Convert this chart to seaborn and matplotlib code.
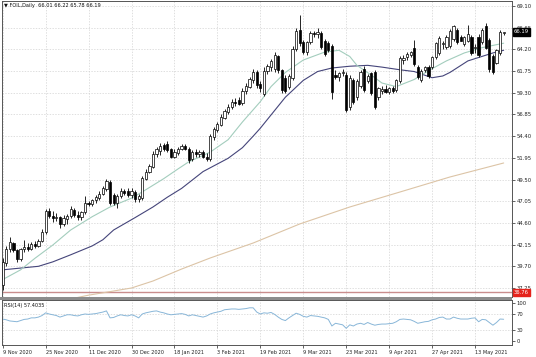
import numpy as np
import pandas as pd
import matplotlib
matplotlib.use('Agg')
import matplotlib.pyplot as plt
import matplotlib.transforms as mtrans
from matplotlib.patches import Rectangle
import seaborn as sns

# FOIL daily candles (9 Nov 2020 .. late May 2021)
opens = [37.6, 40.1, 41.7, 42.3, 41.5, 40.5, 41.6, 41.9, 41.7, 42.2,
         42.0, 42.6, 43.6, 45.9, 45.4, 45.1, 45.3, 44.5, 45.0, 45.4,
         46.1, 45.5, 45.3, 45.8, 46.9, 46.7, 47.2, 47.4, 47.9, 48.4,
         49.2, 47.8, 46.8, 47.6, 48.2, 48.2, 47.7, 48.1, 47.3, 47.4,
         49.6, 50.4, 50.9, 52.4, 52.7, 53.4, 53.5, 52.9, 52.1, 52.5,
         53.0, 53.3, 53.0, 51.8, 52.6, 52.4, 52.6, 52.1, 51.8, 54.3,
         55.1, 55.7, 56.5, 57.1, 57.7, 58.3, 58.5, 58.1, 59.5, 60.0,
         60.8, 61.6, 60.3, 59.2, 61.8, 62.2, 62.0, 63.4, 61.9, 61.0,
         60.0, 61.0, 64.2, 66.4, 65.0, 63.9, 65.0, 66.0, 65.9, 66.1,
         65.2, 64.9, 64.6, 61.3, 61.1, 61.5, 61.3, 57.7, 60.8, 58.8,
         60.1, 62.0, 60.6, 61.5, 61.6, 58.8, 59.5, 59.7, 59.4, 59.8,
         59.6, 60.6, 63.0, 63.3, 63.6, 64.4, 62.2, 60.8, 61.9, 62.2,
         62.2, 63.3, 63.8, 64.8, 64.5, 64.6, 65.4, 66.4, 65.6, 64.8,
         65.1, 65.6, 64.4, 65.6, 65.0, 66.9, 65.3, 63.5, 62.7, 63.8,
         66.01]
highs = [40.6, 42.0, 43.0, 42.5, 41.7, 41.8, 42.7, 42.3, 42.4, 42.6,
         42.8, 43.9, 46.2, 46.3, 45.9, 45.7, 45.4, 45.5, 45.6, 46.5,
         46.3, 46.0, 46.0, 47.6, 47.1, 47.3, 47.7, 48.2, 48.8, 49.6,
         49.4, 48.0, 47.9, 48.5, 48.4, 48.5, 48.5, 48.3, 47.9, 49.9,
         50.7, 51.3, 52.7, 53.2, 53.6, 53.6, 53.8, 53.1, 52.9, 53.2,
         53.5, 53.5, 53.2, 52.8, 52.9, 52.8, 52.8, 52.5, 54.6, 55.4,
         56.0, 56.9, 57.5, 58.0, 58.6, 58.7, 58.8, 59.8, 60.4, 61.1,
         62.0, 61.9, 60.6, 62.2, 62.6, 63.1, 63.9, 63.6, 62.0, 61.3,
         61.4, 64.6, 66.6, 68.1, 65.3, 65.2, 66.3, 66.3, 66.6, 66.3,
         65.4, 65.1, 64.8, 61.9, 61.7, 62.0, 61.6, 61.3, 61.0, 60.9,
         61.9, 62.3, 61.4, 61.7, 61.9, 60.0, 60.1, 60.2, 60.0, 60.1,
         60.9, 63.4, 63.6, 63.9, 64.0, 65.3, 62.4, 62.0, 62.3, 62.4,
         63.4, 65.0, 65.7, 65.2, 65.8, 66.5, 67.0, 66.6, 65.8, 65.7,
         67.0, 65.8, 64.8, 65.9, 66.6, 67.2, 65.5, 63.7, 64.3, 66.4,
         66.22]
lows = [37.0, 39.7, 41.3, 41.3, 40.2, 40.3, 41.3, 41.4, 41.5, 41.8,
        41.9, 42.4, 43.4, 45.1, 44.7, 44.8, 44.0, 44.2, 44.5, 45.2,
        45.3, 44.9, 44.9, 45.6, 46.5, 46.5, 46.9, 47.2, 47.7, 48.2,
        46.6, 46.6, 46.3, 47.4, 47.8, 47.5, 47.4, 47.0, 47.0, 47.2,
        49.4, 50.2, 50.8, 52.1, 52.3, 52.7, 52.6, 51.9, 51.9, 52.3,
        52.8, 52.8, 51.4, 51.6, 52.1, 52.0, 51.9, 51.6, 51.6, 54.0,
        54.9, 55.5, 56.3, 56.9, 57.5, 57.8, 57.9, 57.9, 59.2, 59.8,
        60.4, 59.8, 59.4, 58.9, 61.4, 61.8, 61.7, 61.5, 59.3, 59.3,
        59.7, 60.7, 64.0, 64.6, 63.7, 63.6, 64.8, 65.6, 65.5, 64.3,
        63.5, 63.9, 58.6, 60.9, 60.6, 61.2, 57.1, 57.4, 58.0, 58.5,
        59.8, 59.4, 60.4, 59.1, 57.5, 58.5, 59.2, 59.3, 59.2, 59.3,
        59.4, 60.4, 62.6, 63.0, 63.3, 62.3, 60.9, 60.5, 61.6, 61.0,
        62.0, 63.1, 63.6, 64.3, 64.3, 64.4, 65.2, 64.8, 65.1, 64.6,
        65.0, 63.6, 63.8, 63.3, 64.8, 64.2, 61.7, 61.4, 62.5, 63.6,
        65.78]
closes = [40.2, 41.7, 42.4, 41.5, 40.5, 41.6, 41.9, 41.7, 42.2, 42.0,
          42.6, 43.6, 45.9, 45.4, 45.1, 45.3, 44.5, 45.2, 45.4, 46.2,
          45.5, 45.3, 45.8, 46.9, 46.7, 47.2, 47.5, 47.9, 48.5, 49.3,
          46.9, 46.8, 47.6, 48.2, 48.0, 47.7, 48.2, 47.3, 47.6, 49.7,
          50.4, 51.0, 52.4, 52.9, 53.3, 52.9, 52.8, 52.1, 52.6, 53.0,
          53.3, 53.0, 51.7, 52.6, 52.4, 52.6, 52.1, 51.8, 54.4, 55.2,
          55.8, 56.6, 57.2, 57.7, 58.3, 58.1, 58.0, 59.5, 60.1, 60.9,
          61.7, 60.2, 59.8, 61.8, 62.3, 62.9, 63.6, 61.9, 59.6, 59.5,
          61.2, 64.3, 66.3, 64.9, 63.9, 65.0, 66.1, 65.9, 66.2, 64.5,
          63.7, 64.1, 59.4, 61.1, 61.5, 61.6, 57.4, 61.0, 58.3, 60.6,
          61.6, 59.6, 61.2, 59.3, 57.7, 59.8, 59.7, 59.4, 59.8, 59.5,
          60.7, 63.2, 63.2, 63.7, 63.9, 62.5, 61.1, 61.8, 62.2, 61.2,
          63.3, 64.9, 65.5, 64.9, 65.6, 66.3, 66.8, 65.0, 65.2, 65.6,
          65.9, 63.8, 64.5, 63.6, 66.4, 64.4, 62.0, 61.7, 64.1, 66.2,
          66.19]
rsi = [58, 56, 53, 52, 51, 54, 57, 58, 61, 61,
       63, 67, 74, 71, 69, 67, 63, 66, 69, 69,
       67, 66, 69, 71, 70, 71, 72, 74, 76, 79,
       61, 62, 66, 69, 67, 66, 69, 66, 61, 71,
       74, 76, 78, 79, 76, 74, 71, 69, 70, 71,
       72, 70, 66, 69, 67, 65, 63, 66, 71, 74,
       76, 78, 82, 83, 84, 84, 83, 84, 85, 87,
       87, 76, 71, 74, 73, 75, 70, 63, 57, 54,
       61, 67, 73, 70, 65, 63, 67, 66, 65, 63,
       61, 57, 40, 47, 45, 43, 34, 43, 40, 45,
       47, 44, 49, 45, 42, 44, 45, 45, 46, 47,
       51, 57, 58, 57, 56, 52, 47, 49, 51, 52,
       56, 58, 62, 63, 58, 58, 63, 60, 58, 58,
       58, 60, 61, 51, 57, 56, 49, 42, 49, 58,
       57.4]

# moving averages, read at sample bars
fast_bars = [0, 5, 9, 14, 19, 25, 30, 36, 39, 45, 49, 52, 58, 63, 67, 72, 75, 79,
             84, 90, 94, 97, 99, 103, 106, 110, 115, 119, 124, 129, 134, 140]
fast_ma = [38.2, 39.3, 40.6, 42.1, 43.8, 45.3, 46.4, 47.4, 48.1, 49.6, 50.7, 51.5,
           52.6, 54.0, 56.0, 58.3, 60.0, 61.6, 63.0, 63.9, 64.1, 63.4, 62.4, 61.3,
           60.4, 60.0, 60.8, 61.8, 62.9, 63.8, 64.4, 64.9]
slow_bars = [0, 5, 10, 14, 19, 25, 28, 31, 37, 42, 46, 50, 56, 63, 67, 70, 72, 76,
             79, 84, 88, 92, 97, 102, 106, 111, 115, 120, 123, 125, 130, 137, 140]
slow_ma = [39.3, 39.5, 39.7, 40.2, 41.0, 42.0, 42.7, 43.8, 45.2, 46.4, 47.5, 48.5,
           50.4, 51.9, 53.1, 54.4, 55.3, 57.3, 58.8, 60.7, 61.7, 62.1, 62.3, 62.4,
           62.2, 61.9, 61.7, 61.0, 61.2, 61.6, 62.9, 63.8, 64.1]
long_bars = [20, 24, 30, 36, 42, 50, 58, 70, 83, 97, 111, 125, 140]
long_ma = [36.1, 36.44, 36.84, 37.25, 38.04, 39.39, 40.64, 42.33, 44.48, 46.40,
           48.09, 49.79, 51.37]

date_labels = ['9 Nov 2020', '25 Nov 2020', '11 Dec 2020', '30 Dec 2020',
               '18 Jan 2021', '3 Feb 2021', '19 Feb 2021', '9 Mar 2021',
               '23 Mar 2021', '9 Apr 2021', '27 Apr 2021', '13 May 2021']
price_ticks = [69.10, 66.65, 64.20, 61.75, 59.30, 56.85, 54.40, 51.95,
               49.50, 47.05, 44.60, 42.15, 39.70, 37.25]
rsi_ticks = [0, 30, 70, 100]
rsi_levels = [30, 70]
last_price = 66.19
line_price = 36.76
title = '\u25bc FOIL,Daily  66.01 66.22 65.78 66.19'
rsi_title = 'RSI(14) 57.4035'

df = pd.DataFrame({'open': opens, 'high': highs, 'low': lows,
                   'close': closes, 'rsi': rsi})
df['bar'] = np.arange(len(df))

sns.set_style('white')
plt.rcParams['font.family'] = ['DejaVu Sans']

fig = plt.figure(figsize=(5.36, 3.57), dpi=100)
ax = fig.add_axes([0.003, 0.168, 0.952, 0.829])
ax2 = fig.add_axes([0.003, 0.034, 0.952, 0.126], sharex=ax)

grid_kw = dict(color='#d2d2d2', lw=0.5, ls=(0, (2, 2)), zorder=0)
tick_pos = list(range(0, 12 * len(date_labels), 12))

# main panel
for p in price_ticks:
    ax.axhline(p, **grid_kw)
for t in tick_pos:
    ax.axvline(t, **grid_kw)
    ax2.axvline(t, **grid_kw)

ax.axhline(line_price, color='#c98d8d', lw=1.0, zorder=1)

sns.lineplot(x=long_bars, y=long_ma, ax=ax, color='#dcc4a6', lw=0.8, zorder=1)
sns.lineplot(x=slow_bars, y=slow_ma, ax=ax, color='#45457a', lw=0.8, zorder=1)
sns.lineplot(x=fast_bars, y=fast_ma, ax=ax, color='#a3cdbd', lw=0.8, zorder=1)

up = df['close'] >= df['open']
ax.vlines(df['bar'], df['low'], df['high'], color='black', lw=0.6, zorder=2)
body_lo = np.minimum(df['open'], df['close'])
body_h = (df['close'] - df['open']).abs().clip(lower=0.06)
ax.bar(df['bar'], body_h, bottom=body_lo, width=0.62,
       color=np.where(up, 'white', 'black'), edgecolor='black',
       linewidth=0.5, zorder=3)

ax.set_xlim(-0.3, 142.3)
ax.set_ylim(36.23, 69.66)
ax.yaxis.tick_right()
ax.set_yticks(price_ticks)
ax.set_yticklabels([f'{p:.2f}' for p in price_ticks])
ax.tick_params(axis='y', labelsize=3.8, length=2, pad=1.5, width=0.5,
               colors='#222222', right=True)
ax.tick_params(axis='x', labelbottom=False, bottom=False)
ax.set_xlabel('')
ax.set_ylabel('')
for s in ax.spines.values():
    s.set_color('#555555')
    s.set_linewidth(0.7)

ax.text(0.004, 0.992, title, transform=ax.transAxes, fontsize=3.6,
        va='top', ha='left', color='#111111')

trans = mtrans.blended_transform_factory(ax.transAxes, ax.transData)
ax.text(1.004, last_price, f'{last_price:.2f}', transform=trans, fontsize=3.8,
        color='white', va='center', ha='left',
        bbox=dict(boxstyle='square,pad=0.25', fc='black', ec='black'))
ax.text(1.004, line_price, f'{line_price:.2f}', transform=trans, fontsize=3.8,
        color='white', va='center', ha='left',
        bbox=dict(boxstyle='square,pad=0.2', fc='#e5231c', ec='#e5231c'))

# RSI panel
for lv in rsi_levels:
    ax2.axhline(lv, **grid_kw)
sns.lineplot(x=df['bar'], y=df['rsi'], ax=ax2, color='#88b6d8', lw=0.7)
ax2.set_ylim(-8.8, 107.5)
ax2.yaxis.tick_right()
ax2.set_yticks(rsi_ticks)
ax2.set_yticklabels([str(v) for v in rsi_ticks])
ax2.tick_params(axis='y', labelsize=3.8, length=2, pad=1.5, width=0.5,
                colors='#222222', right=True)
ax2.set_xticks(tick_pos)
ax2.set_xticklabels(date_labels, ha='left')
ax2.tick_params(axis='x', labelsize=3.6, length=2, pad=1.5, width=0.5,
                colors='#222222', bottom=True)
ax2.set_xlabel('')
ax2.set_ylabel('')
for s in ax2.spines.values():
    s.set_color('#555555')
    s.set_linewidth(0.7)
ax2.text(0.004, 0.93, rsi_title, transform=ax2.transAxes, fontsize=3.6,
         va='top', ha='left', color='#111111')

# grey band between the two panels
fig.add_artist(Rectangle((0.0, 1 - 300 / 357), 0.955, 3 / 357,
                         transform=fig.transFigure, color='#8c8c8c', lw=0))

fig.savefig('out.png', dpi=100)
